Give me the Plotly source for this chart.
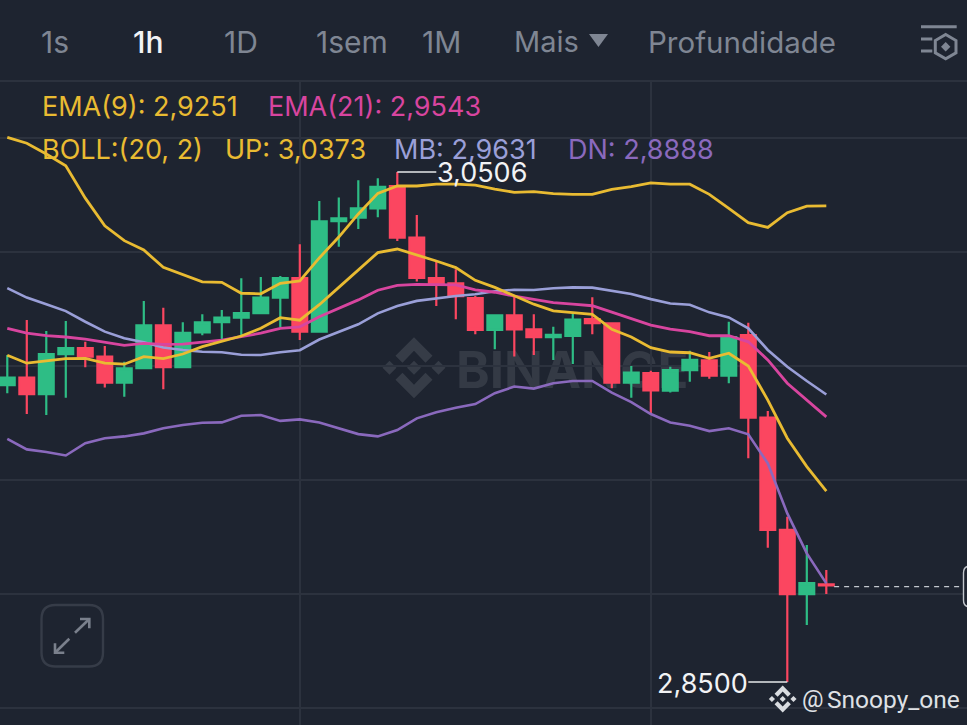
import plotly.graph_objects as go

W, H = 967, 725
TOP = 81

candle_index = list(range(43))
opens = [2.9668, 2.9697, 2.9632, 2.9790, 2.9813, 2.9780, 2.9677, 2.9734, 2.9903, 2.9738, 2.9875,
         2.9915, 2.9933, 2.9951, 3.0012, 3.0089, 2.9878, 3.0313, 3.0326, 3.0363, 3.0451, 3.0248,
         3.0089, 3.0068, 3.0010, 2.9885, 2.9942, 2.9887, 2.9856, 2.9861, 2.9927, 2.9911, 2.9677,
         2.9715, 2.9646, 2.9727, 2.9765, 2.9705, 2.9864, 2.9540, 2.9098, 2.8846, 2.8884]
highs = [2.9786, 2.9924, 2.9881, 2.9920, 2.9838, 2.9822, 2.9760, 2.9999, 2.9972, 2.9915, 2.9946,
         2.9963, 3.0088, 3.0093, 3.0097, 3.0222, 3.0392, 3.0406, 3.0474, 3.0481, 3.0506, 3.0337,
         3.0153, 3.0123, 3.0018, 2.9946, 3.0015, 2.9946, 2.9897, 2.9950, 3.0013, 2.9913, 2.9743,
         2.9724, 2.9740, 2.9803, 2.9798, 2.9917, 2.9913, 2.9566, 2.9150, 2.9039, 2.8941]
lows = [2.9636, 2.9554, 2.9550, 2.9618, 2.9738, 2.9658, 2.9622, 2.9734, 2.9651, 2.9738, 2.9864,
        2.9845, 2.9865, 2.9951, 2.9895, 2.9845, 2.9875, 3.0212, 3.0282, 3.0328, 3.0235, 3.0075,
        2.9979, 2.9927, 2.9868, 2.9809, 2.9780, 2.9786, 2.9767, 2.9751, 2.9868, 2.9655, 2.9618,
        2.9557, 2.9639, 2.9681, 2.9693, 2.9675, 2.9380, 2.9028, 2.8500, 2.8724, 2.8846]
closes = [2.9697, 2.9632, 2.9790, 2.9813, 2.9780, 2.9677, 2.9734, 2.9903, 2.9738, 2.9873, 2.9915,
          2.9933, 2.9951, 3.0012, 3.0089, 2.9878, 3.0312, 3.0324, 3.0363, 3.0448, 3.0248, 3.0089,
          3.0068, 3.0018, 2.9885, 2.9942, 2.9887, 2.9856, 2.9865, 2.9925, 2.9911, 2.9677, 2.9717,
          2.9647, 2.9727, 2.9767, 2.9705, 2.9857, 2.9540, 2.9098, 2.8846, 2.8889, 2.8880]

boll_up = [3.0642, 3.0619, 3.0577, 3.0530, 3.0403, 3.0294, 3.0236, 3.0199, 3.0131, 3.0101, 3.0074,
           3.0072, 3.0029, 3.0027, 3.0068, 3.0078, 3.0168, 3.0250, 3.0341, 3.0422, 3.0451, 3.0451,
           3.0458, 3.0458, 3.0454, 3.0439, 3.0426, 3.0429, 3.0421, 3.0418, 3.0418, 3.0438, 3.0448,
           3.0463, 3.0458, 3.0458, 3.0418, 3.0363, 3.0307, 3.0288, 3.0346, 3.0372, 3.0373]
ema9 = [2.9785, 2.9754, 2.9763, 2.9772, 2.9773, 2.9754, 2.9750, 2.9780, 2.9772, 2.9790, 2.9819,
        2.9841, 2.9861, 2.9891, 2.9933, 2.9923, 2.9984, 3.0052, 3.0121, 3.0189, 3.0203, 3.0180,
        3.0156, 3.0130, 3.0080, 3.0052, 3.0018, 2.9986, 2.9960, 2.9954, 2.9946, 2.9887, 2.9857,
        2.9815, 2.9798, 2.9795, 2.9773, 2.9793, 2.9743, 2.9609, 2.9459, 2.9347, 2.9251]
ema21 = [2.9891, 2.9872, 2.9862, 2.9857, 2.9849, 2.9835, 2.9824, 2.9832, 2.9828, 2.9829, 2.9836,
         2.9845, 2.9858, 2.9872, 2.9891, 2.9897, 2.9937, 2.9971, 3.0003, 3.0041, 3.0060, 3.0064,
         3.0063, 3.0062, 3.0042, 3.0033, 3.0018, 3.0005, 2.9992, 2.9986, 2.9980, 2.9955, 2.9930,
         2.9904, 2.9888, 2.9878, 2.9862, 2.9862, 2.9838, 2.9767, 2.9675, 2.9609, 2.9543]
boll_mb = [3.0049, 3.0012, 2.9986, 2.9959, 2.9917, 2.9878, 2.9852, 2.9836, 2.9816, 2.9806, 2.9799,
           2.9797, 2.9787, 2.9786, 2.9797, 2.9805, 2.9847, 2.9878, 2.9907, 2.9950, 2.9979, 2.9999,
           3.0009, 3.0018, 3.0025, 3.0037, 3.0043, 3.0042, 3.0049, 3.0052, 3.0051, 3.0038, 3.0026,
           3.0006, 2.9989, 2.9984, 2.9954, 2.9934, 2.9891, 2.9806, 2.9740, 2.9684, 2.9631]
boll_dn = [2.9456, 2.9415, 2.9405, 2.9391, 2.9439, 2.9459, 2.9466, 2.9478, 2.9498, 2.9511, 2.9520,
           2.9521, 2.9547, 2.9550, 2.9527, 2.9533, 2.9521, 2.9499, 2.9475, 2.9466, 2.9491, 2.9537,
           2.9561, 2.9579, 2.9593, 2.9636, 2.9662, 2.9654, 2.9675, 2.9684, 2.9684, 2.9638, 2.9601,
           2.9554, 2.9521, 2.9508, 2.9487, 2.9498, 2.9474, 2.9360, 2.9163, 2.9006, 2.8888]

tab_labels = ["1s", "1h", "1D", "1sem", "1M", "Mais", "Profundidade"]
indicator_labels = ["EMA(9): 2,9251", "EMA(21): 2,9543", "BOLL:(20, 2)", "UP: 3,0373", "MB: 2,9631", "DN: 2,8888"]
high_label, low_label = "3,0506", "2,8500"
last_price = 2.8875

BG = "#1e2430"
GRID = "#2c323e"
GOLD = "#e9bb32"
PINK = "#d8459f"
LAV = "#9a9fd8"
PURPLE = "#8a69bd"
GRAY = "#7f8693"
GREEN = "#2ebd85"
RED = "#fb4660"
FONT = "Inter"


def px(x):
    return x / W


def py(y):
    return 1 - y / H


def path(points, close=True):
    s = "M " + " L ".join(f"{px(a):.5f},{py(b):.5f}" for a, b in points)
    return s + (" Z" if close else "")


def poly(points, fill, layer="above"):
    return dict(type="path", xref="paper", yref="paper", path=path(points), fillcolor=fill,
                line=dict(width=0), layer=layer)


def stroke(points, color, width, layer="above"):
    return dict(type="path", xref="paper", yref="paper", path=path(points, False),
                line=dict(color=color, width=width), layer=layer)


def logo(cx, cy, s, fill, layer):
    small = [(0, -7), (7, 0), (0, 7), (-7, 0)]
    top = [(0, -30.5), (18.5, -12), (11.5, -5), (0, -17), (-11.5, -5), (-18.5, -12)]
    out = []
    for ox in (-24.5, 0, 24.5):
        out.append(poly([(cx + (a + ox) * s, cy + b * s) for a, b in small], fill, layer))
    out.append(poly([(cx + a * s, cy + b * s) for a, b in top], fill, layer))
    out.append(poly([(cx + a * s, cy - b * s) for a, b in top], fill, layer))
    return out


def rounded(x0, y0, x1, y1, r):
    return (f"M {px(x0 + r):.5f},{py(y0):.5f} L {px(x1 - r):.5f},{py(y0):.5f} "
            f"Q {px(x1):.5f},{py(y0):.5f} {px(x1):.5f},{py(y0 + r):.5f} "
            f"L {px(x1):.5f},{py(y1 - r):.5f} Q {px(x1):.5f},{py(y1):.5f} {px(x1 - r):.5f},{py(y1):.5f} "
            f"L {px(x0 + r):.5f},{py(y1):.5f} Q {px(x0):.5f},{py(y1):.5f} {px(x0):.5f},{py(y1 - r):.5f} "
            f"L {px(x0):.5f},{py(y0 + r):.5f} Q {px(x0):.5f},{py(y0):.5f} {px(x0 + r):.5f},{py(y0):.5f} Z")


fig = go.Figure()
fig.add_trace(go.Candlestick(
    x=candle_index, open=opens, high=highs, low=lows, close=closes,
    increasing=dict(line=dict(color=GREEN, width=2.2), fillcolor=GREEN),
    decreasing=dict(line=dict(color=RED, width=2.2), fillcolor=RED),
    whiskerwidth=0, showlegend=False, hoverinfo="skip"))
for vals, col, w in ((boll_dn, PURPLE, 2.6), (boll_mb, LAV, 2.6), (ema21, PINK, 2.8),
                     (ema9, GOLD, 2.8), (boll_up, GOLD, 2.8)):
    fig.add_trace(go.Scatter(x=candle_index, y=vals, mode="lines", line=dict(color=col, width=w),
                             showlegend=False, hoverinfo="skip"))

shapes = []
# watermark below the candles
shapes += logo(414, 367.7, 1, "#363c47", "below")
shapes.append(dict(type="rect", xref="paper", yref="paper", x0=px(450), x1=px(730), y0=py(395), y1=py(340),
                   line=dict(width=0), fillcolor="rgba(0,0,0,0)", layer="below",
                   label=dict(text="BINANCE", textposition="middle left",
                              font=dict(family=FONT, size=51, color="#343a45", weight="bold"))))
# header rule
shapes.append(stroke([(0, 81), (W, 81)], GRID, 2))
# min / max leaders
shapes.append(dict(type="line", xref="x", yref="y", x0=20, x1=22.0, y0=highs[20], y1=highs[20],
                   line=dict(color="#e6e8ea", width=1.3)))
shapes.append(dict(type="line", xref="x", yref="y", x0=38, x1=40, y0=lows[40], y1=lows[40],
                   line=dict(color="#e6e8ea", width=1.3)))
# last price dashed line
shapes.append(dict(type="line", xref="x", yref="y", x0=42.4, x1=48.95, y0=last_price, y1=last_price,
                   line=dict(color="#c3c7cd", width=1.4, dash="5px,5px")))
# last price tag, cut by the window edge
shapes.append(dict(type="path", xref="paper", yref="paper", path=rounded(963.5, 566, 1000, 607, 7),
                   line=dict(color="#c3c7cd", width=1.4), fillcolor=BG))
# expand button
shapes.append(dict(type="path", xref="paper", yref="paper", path=rounded(41.5, 605, 103, 666.5, 14),
                   line=dict(color="#363c48", width=2.4)))
shapes.append(stroke([(75, 632.7), (89.3, 619)], "#7a808c", 2.6))
shapes.append(stroke([(80, 619), (89.3, 619), (89.3, 628.3)], "#7a808c", 2.6))
shapes.append(stroke([(69.3, 638.7), (55, 652.7)], "#7a808c", 2.6))
shapes.append(stroke([(55, 643.3), (55, 652.7), (64.3, 652.7)], "#7a808c", 2.6))
# header icons
shapes.append(poly([(589, 34), (608, 34), (598.5, 47)], GRAY))
shapes.append(stroke([(921, 26.7), (956.7, 26.7)], GRAY, 3))
shapes.append(stroke([(921, 39), (932.3, 39)], GRAY, 3))
shapes.append(stroke([(921, 51), (932.3, 51)], GRAY, 3))
shapes.append(dict(type="path", xref="paper", yref="paper",
                   path=path([(945.7, 34.5), (956, 40.5), (956, 52.8), (945.7, 58.8), (935.3, 52.8), (935.3, 40.5)]),
                   line=dict(color=GRAY, width=3)))
shapes.append(poly([(945.7, 42), (950.4, 46.7), (945.7, 51.4), (941, 46.7)], GRAY))
# small logo next to the author name
shapes += logo(782.7, 699, 0.44, "#d9dce0", "above")

annotations = []


def text(x, y, s, color, size=26, anchor="left", weight="normal", family=FONT):
    annotations.append(dict(xref="paper", yref="paper", x=px(x), y=py(y), text=s, showarrow=False,
                            xanchor=anchor, yanchor="middle", borderpad=0, borderwidth=0,
                            font=dict(family=family, size=size, color=color, weight=weight)))


tab_x = [41, 133, 224, 316, 422, 514, 648]
for s, x in zip(tab_labels, tab_x):
    if s == "1h":
        text(x, 42, s, "#f2f3f5", 30, weight=500)
    elif s == "Profundidade":
        text(x, 42, s, GRAY, 29.5)
    elif s == "Mais":
        text(x, 42, s, GRAY, 29)
    else:
        text(x, 42, s, GRAY, 30)

ind_pos = [(42, 107, GOLD), (268, 107, PINK), (42, 150, GOLD), (225, 150, GOLD), (394, 150, LAV), (568, 150, PURPLE)]
for s, (x, y, c) in zip(indicator_labels, ind_pos):
    text(x, y, s, c, 27)

text(437, 173, high_label, "#f2f3f5", 27)
text(748, 683, low_label, "#f2f3f5", 27, anchor="right")
text(802, 699, "@", "#dfe1e5", 24, family="Roboto")
text(827, 699, "Snoopy_one", "#dfe1e5", 24.5, family="Roboto")

fig.update_layout(
    width=W, height=H, margin=dict(l=0, r=0, t=0, b=0), autosize=False,
    paper_bgcolor=BG, plot_bgcolor=BG, showlegend=False, boxgap=0.05, boxgroupgap=0.2,
    shapes=shapes, annotations=annotations,
    xaxis=dict(range=[-0.374, 49.215], rangeslider=dict(visible=False), showticklabels=False,
               ticks="", tick0=15, dtick=18, showgrid=True, gridcolor=GRID, gridwidth=1.6,
               zeroline=False, showline=False),
    yaxis=dict(range=[2.83309, 3.08639], domain=[0, 1 - TOP / H], showticklabels=False, ticks="",
               tick0=2.8846, dtick=0.04484, showgrid=True, gridcolor=GRID, gridwidth=1.8,
               zeroline=False, showline=False),
)

fig.write_html("out.html", config=dict(displayModeBar=False),
               post_script="document.body.style.margin='0';document.body.style.overflow='hidden';")
